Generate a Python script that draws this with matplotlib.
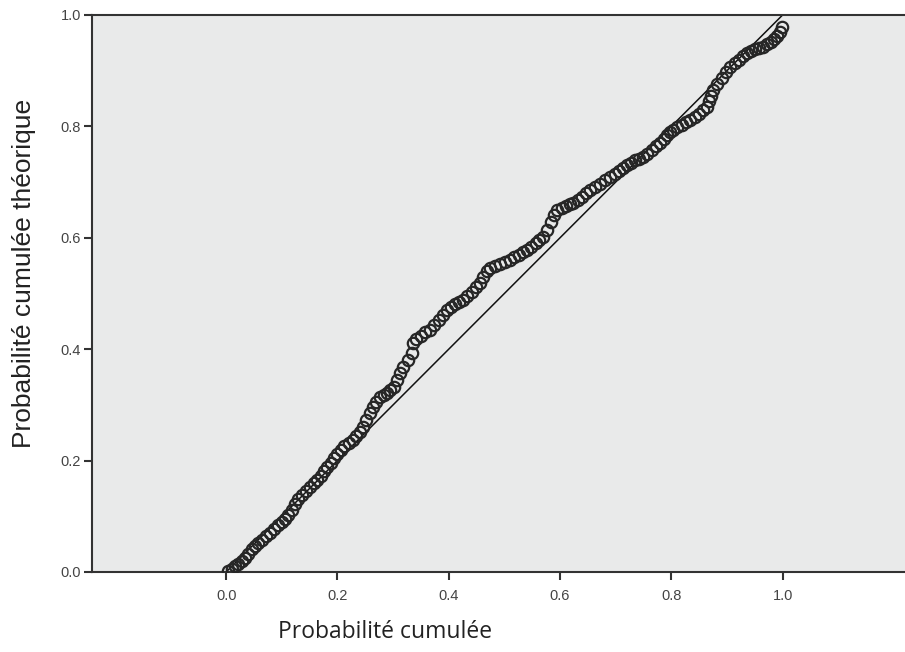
import numpy as np
import matplotlib
matplotlib.use('Agg')
import matplotlib.pyplot as plt

obs = [0.004, 0.010, 0.016, 0.022, 0.028, 0.034, 0.040, 0.046, 0.052, 0.058,
       0.065, 0.072, 0.079, 0.086, 0.093, 0.100, 0.106, 0.112, 0.118, 0.124,
       0.130, 0.137, 0.144, 0.151, 0.158, 0.164, 0.170, 0.176, 0.182, 0.188,
       0.194, 0.200, 0.206, 0.212, 0.220, 0.228, 0.234, 0.240, 0.246, 0.252,
       0.258, 0.264, 0.270, 0.277, 0.283, 0.289, 0.295, 0.301, 0.307, 0.313,
       0.318, 0.326, 0.334, 0.336, 0.342, 0.350, 0.358, 0.367, 0.374, 0.382,
       0.390, 0.397, 0.404, 0.412, 0.419, 0.426, 0.433, 0.441, 0.449, 0.456,
       0.462, 0.468, 0.474, 0.483, 0.492, 0.501, 0.510, 0.518, 0.526, 0.534,
       0.541, 0.548, 0.556, 0.563, 0.570, 0.577, 0.584, 0.590, 0.595, 0.603,
       0.611, 0.618, 0.624, 0.632, 0.640, 0.647, 0.654, 0.663, 0.672, 0.681,
       0.690, 0.698, 0.706, 0.714, 0.721, 0.728, 0.735, 0.742, 0.749, 0.757,
       0.765, 0.772, 0.780, 0.786, 0.792, 0.798, 0.803, 0.811, 0.819, 0.827,
       0.834, 0.842, 0.850, 0.857, 0.864, 0.868, 0.872, 0.875, 0.883, 0.891,
       0.899, 0.906, 0.914, 0.921, 0.929, 0.936, 0.944, 0.951, 0.958, 0.965,
       0.972, 0.979, 0.985, 0.990, 0.995, 0.999]
theo = [0.002, 0.006, 0.011, 0.014, 0.019, 0.025, 0.033, 0.041, 0.047, 0.052,
        0.057, 0.064, 0.070, 0.077, 0.084, 0.090, 0.095, 0.102, 0.112, 0.122,
        0.131, 0.139, 0.146, 0.153, 0.160, 0.166, 0.173, 0.181, 0.189, 0.196,
        0.204, 0.212, 0.219, 0.226, 0.231, 0.237, 0.244, 0.252, 0.261, 0.272,
        0.285, 0.296, 0.305, 0.314, 0.318, 0.322, 0.326, 0.333, 0.345, 0.358,
        0.368, 0.380, 0.393, 0.411, 0.418, 0.424, 0.430, 0.434, 0.443, 0.452,
        0.461, 0.470, 0.476, 0.481, 0.485, 0.488, 0.495, 0.503, 0.511, 0.519,
        0.530, 0.540, 0.546, 0.550, 0.553, 0.557, 0.560, 0.565, 0.570, 0.575,
        0.578, 0.584, 0.591, 0.596, 0.601, 0.614, 0.628, 0.641, 0.650, 0.654,
        0.657, 0.660, 0.662, 0.668, 0.674, 0.680, 0.686, 0.692, 0.697, 0.703,
        0.709, 0.715, 0.720, 0.726, 0.731, 0.735, 0.739, 0.742, 0.745, 0.751,
        0.758, 0.764, 0.770, 0.777, 0.784, 0.790, 0.794, 0.799, 0.803, 0.807,
        0.811, 0.817, 0.823, 0.829, 0.835, 0.845, 0.855, 0.865, 0.876, 0.887,
        0.897, 0.907, 0.914, 0.920, 0.926, 0.932, 0.936, 0.939, 0.941, 0.943,
        0.948, 0.952, 0.957, 0.962, 0.970, 0.978]
ref_line = [0.0, 1.0]
ticks = [0.0, 0.2, 0.4, 0.6, 0.8, 1.0]

fig = plt.figure(figsize=(9.05, 6.52), dpi=100)
ax = fig.add_axes([0.1017, 0.1227, 0.8983, 0.8543])
ax.set_facecolor('#e9eaea')

ax.plot(ref_line, ref_line, color='#111111', lw=1.1, zorder=2)
ax.plot(obs, theo, 'o', ms=8.2, mfc='none', mec='#262626', mew=1.6, zorder=3)

ax.set_xlim(-0.241, 1.22)
ax.set_ylim(0, 1.0)
ax.set_xticks(ticks)
ax.set_yticks(ticks)
ax.set_xticklabels(['%.1f' % t for t in ticks])
ax.set_yticklabels(['%.1f' % t for t in ticks])
ax.tick_params(direction='out', length=6, width=1.5, color='#333333',
               labelsize=10.5, labelcolor='#444444', pad=6)
for lab in ax.get_xticklabels() + ax.get_yticklabels():
    lab.set_family('Liberation Sans')
ax.tick_params(axis='y', pad=2)

for s in ['left', 'bottom', 'top']:
    ax.spines[s].set_color('#333333')
    ax.spines[s].set_linewidth(1.5)
ax.spines['right'].set_visible(False)

fig.text(0.426, 0.03, 'Probabilité cumulée', family='Open Sans', fontsize=16.5,
         color='#222222', ha='center', va='center')
fig.text(0.026, 0.58, 'Probabilité cumulée théorique', family='Liberation Sans',
         fontsize=19, color='#222222', rotation=90, ha='center', va='center')

fig.savefig('out.png', dpi=100)
